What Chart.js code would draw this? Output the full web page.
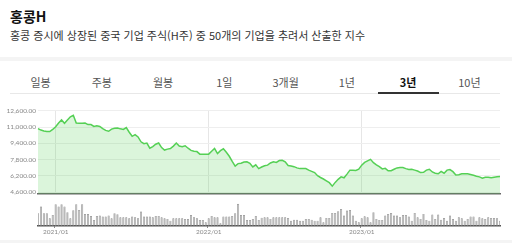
<!DOCTYPE html>
<html lang="ko">
<head>
<meta charset="utf-8">
<script src="https://cdn.jsdelivr.net/npm/chart.js@4.4.1/dist/chart.umd.min.js"></script>
<style>
  html, body { margin: 0; padding: 0; background: #fff; }
  body { width: 512px; height: 243px; overflow: hidden; position: relative; font-family: "Noto Sans CJK KR", "Noto Sans", sans-serif; }
  .title { position: absolute; left: 10px; top: 6px; font-size: 14px; font-weight: bold; color: #111; }
  .desc { position: absolute; left: 10px; top: 27px; font-size: 11px; color: #333; }
  .band { position: absolute; left: 0; width: 512px; background: #f4f4f4; }
  .tabs { position: absolute; left: 10px; top: 72px; width: 490px; height: 21px; margin: 0; padding: 0; list-style: none; display: flex; border-bottom: 1px solid #e8e8e8; }
  .tabs li { flex: 1; text-align: center; font-size: 11px; line-height: 21px; color: #555; }
  .tabs li.on { font-weight: bold; color: #111; border-bottom: 2px solid #333; margin-bottom: -1px; }
  .box { position: absolute; left: 0; width: 512px; }
</style>
</head>
<body>
<div class="title">홍콩H</div>
<div class="desc">홍콩 증시에 상장된 중국 기업 주식(H주) 중 50개의 기업을 추려서 산출한 지수</div>
<div class="band" style="top:57px;height:4px"></div>
<ul class="tabs">
  <li>일봉</li><li>주봉</li><li>월봉</li><li>1일</li><li>3개월</li><li>1년</li><li class="on">3년</li><li>10년</li>
</ul>
<div class="box" style="top:100px;height:100px"><canvas id="priceChart"></canvas></div>
<div class="box" style="top:200px;height:40px"><canvas id="volumeChart"></canvas></div>
<div class="band" style="top:240px;height:3px"></div>

<script>
// weekly closes, from 2020-11-23
const startDate = '2020-11-23';
const prices = [
  10850, 10700, 10610, 10550, 10550, 10760, 11030, 11390, 11690, 11360,
  11690, 12000, 12150, 11390, 11360, 11360, 11390, 11240, 11240, 11060,
  11120, 11060, 10850, 10670, 10580, 10790, 10880, 10910, 10820, 10760,
  10940, 10490, 10090, 10250, 10030, 9550, 9370, 9430, 8920, 9070,
  9310, 9430, 8980, 8740, 8830, 8890, 9130, 9430, 9130, 9070,
  9160, 8920, 8710, 8620, 8590, 8340, 8340, 8340, 8340, 8620,
  8890, 8400, 8680, 8860, 8520, 8130, 7620, 7170, 7410, 7440,
  7560, 7590, 7440, 7080, 7290, 6920, 7080, 7200, 7260, 7470,
  7590, 7530, 7710, 7740, 7590, 7230, 7170, 7110, 6990, 6920,
  6920, 6920, 6770, 6650, 6530, 6230, 6050, 5900, 5720, 5540,
  5200, 5570, 5870, 6110, 6020, 6380, 6770, 6770, 6740, 6860,
  7260, 7530, 7680, 7830, 7500, 7290, 7110, 6890, 6950, 6710,
  6710, 6860, 6990, 7020, 7020, 6920, 6830, 6860, 6770, 6680,
  6530, 6560, 6770, 6860, 6590, 6470, 6410, 6650, 6470, 6770,
  6830, 6620, 6290, 6320, 6410, 6410, 6410, 6350, 6260, 6170,
  6110, 5990, 6080, 6080, 6020, 6080, 6110, 6140
];
const volumes = [
  37, 57, 37, 37, 22, 32, 64, 57, 64, 57,
  40, 22, 46, 64, 47, 64, 35, 35, 29, 17,
  29, 30, 27, 27, 30, 22, 37, 34, 25, 25,
  25, 22, 27, 25, 22, 42, 27, 27, 27, 25,
  29, 29, 25, 22, 20, 15, 22, 22, 22, 22,
  20, 20, 32, 25, 22, 17, 17, 10, 22, 29,
  25, 25, 7, 27, 27, 27, 29, 37, 65, 32,
  32, 17, 17, 20, 29, 17, 24, 25, 25,
  20, 25, 25, 25, 25, 25, 23, 15, 18, 18,
  15, 15, 20, 20, 18, 15, 15, 25, 10, 23,
  23, 38, 38, 43, 50, 30, 45, 47, 30, 15,
  10, 22, 28, 25, 10, 40, 20, 17, 17, 30,
  35, 38, 30, 30, 25, 32, 32, 27, 15, 38,
  25, 20, 35, 17, 15, 33, 20, 33, 18, 23,
  15, 30, 20, 15, 25, 22, 15, 20, 27, 27,
  15, 25, 22, 20, 25, 23, 23, 22, 15
];
const yTicks = [4600, 6200, 7800, 9400, 11000, 12600];

// week labels
const labels = [];
const d0 = new Date(startDate + 'T00:00:00');
for (let i = 0; i < prices.length; i++) {
  const d = new Date(d0.getTime() + i * 7 * 86400000);
  labels.push(`${d.getFullYear()}/${String(d.getMonth()+1).padStart(2,'0')}/${String(d.getDate()).padStart(2,'0')}`);
}
function isYearStart(i) {
  if (typeof i !== 'number' || i <= 0 || i >= labels.length) return false;
  return labels[i].slice(5, 7) === '01' && labels[i-1].slice(5, 7) === '12';
}

const tickFont = { family: 'Lato, "Noto Sans", sans-serif', size: 6.5 };

new Chart(document.getElementById('priceChart'), {
  type: 'line',
  data: {
    labels: labels,
    datasets: [{
      data: prices,
      borderColor: '#55d055',
      backgroundColor: 'rgba(90,210,90,0.22)',
      borderWidth: 1.5,
      pointRadius: 0,
      tension: 0,
      fill: 'origin'
    }]
  },
  options: {
    responsive: true,
    maintainAspectRatio: false,
    animation: false,
    layout: { padding: { left: 0, right: 12, top: 10.7, bottom: 0 } },
    plugins: { legend: { display: false }, tooltip: { enabled: false } },
    scales: {
      x: {
        offset: false,
        ticks: { display: false },
        grid: { drawTicks: false, color: ctx => isYearStart(ctx.index) ? '#e6e6e6' : 'rgba(0,0,0,0)' },
        border: { color: '#666', width: 1.5 }
      },
      y: {
        min: 4420,
        max: 12600,
        afterBuildTicks: s => { s.ticks = yTicks.map(v => ({ value: v })); },
        afterFit: s => { s.width = 38; },
        ticks: {
          font: tickFont, color: '#888', padding: 2,
          callback: v => v.toLocaleString('en-US', { minimumFractionDigits: 2 })
        },
        grid: { color: '#eeeeee', drawTicks: false },
        border: { display: false }
      }
    }
  }
});

new Chart(document.getElementById('volumeChart'), {
  type: 'bar',
  data: {
    labels: labels,
    datasets: [{
      data: volumes,
      backgroundColor: '#b4b4b4',
      borderColor: '#808080',
      borderWidth: 0.6,
      barPercentage: 0.72,
      categoryPercentage: 1
    }]
  },
  options: {
    responsive: true,
    maintainAspectRatio: false,
    animation: false,
    layout: { padding: { left: 38, right: 12, top: 3.5, bottom: 4.5 } },
    plugins: { legend: { display: false }, tooltip: { enabled: false } },
    scales: {
      x: {
        offset: false,
        ticks: {
          autoSkip: false, maxRotation: 0, minRotation: 0, padding: 0,
          font: tickFont, color: '#888',
          callback: (v, i) => isYearStart(i) ? labels[i].slice(0, 7) : ''
        },
        grid: { drawOnChartArea: false, tickLength: 2, color: ctx => isYearStart(ctx.index) ? '#555' : 'rgba(0,0,0,0)' },
        border: { color: '#555', width: 1.5 }
      },
      y: { display: false, min: 0, max: 66 }
    }
  }
});
</script>
</body>
</html>
